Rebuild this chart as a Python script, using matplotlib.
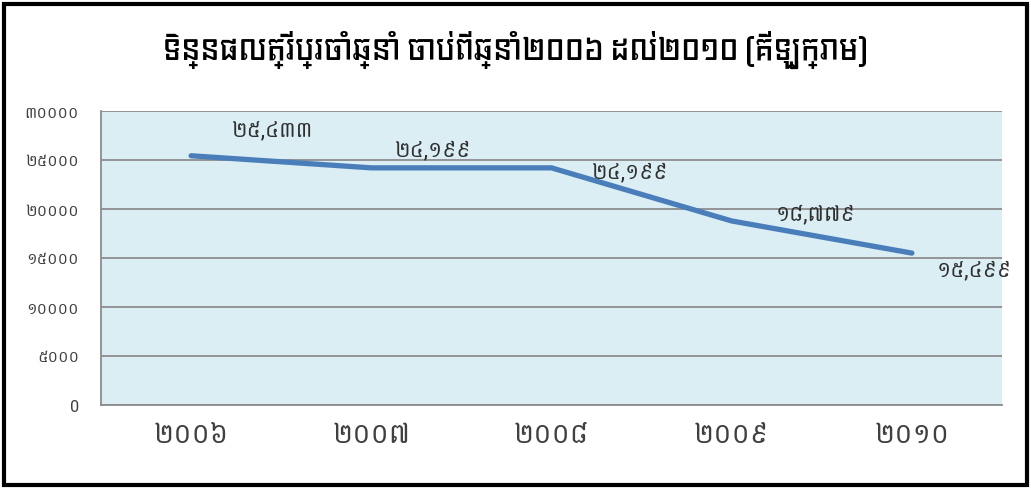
import matplotlib
matplotlib.use("Agg")
import matplotlib.pyplot as plt
from matplotlib.patches import Rectangle

title = "ទិន្នផលត្រីប្រចាំឆ្នាំ ចាប់ពីឆ្នាំ២០០៦ ដល់២០១០ (គីឡូក្រាម)"
years = ["២០០៦", "២០០៧", "២០០៨", "២០០៩", "២០១០"]
values = [25433, 24199, 24199, 18779, 15499]
value_labels = ["២៥,៤៣៣", "២៤,១៩៩", "២៤,១៩៩", "១៨,៧៧៩", "១៥,៤៩៩"]
yticks = [0, 5000, 10000, 15000, 20000, 25000, 30000]
ytick_labels = ["0", "៥០០០", "១០០០០", "១៥០០០", "២០០០០", "២៥០០០", "៣០០០០"]

body_font = ["Battambang", "Hanuman", "Noto Sans Khmer", "DejaVu Sans"]
title_font = ["Kdam Thmor Pro", "Noto Sans Khmer", "DejaVu Sans"]
plt.rcParams['font.family'] = body_font

fig = plt.figure(figsize=(10.31, 4.88), dpi=100)
ax = fig.add_axes([101/1031, 1-405/488, 901/1031, 294/488])
ax.set_facecolor("#DAEEF3")
x = list(range(len(years)))
ax.plot(x, values, color="#4A7EBB", lw=3.8, solid_capstyle="round", zorder=3)
ax.set_xlim(-0.5, 4.5)
ax.set_ylim(0, 30000)
ax.set_yticks(yticks)
ax.set_yticklabels(ytick_labels, fontsize=11.5, color="#404040")
ax.set_xticks(x)
ax.set_xticklabels(years, fontsize=20, color="#404040")
ax.tick_params(axis='y', length=0, pad=16)
ax.tick_params(axis='x', length=0, pad=12)
ax.grid(axis='y', color="#8C8C8C", lw=1.3)
ax.set_axisbelow(True)
for s in ax.spines.values():
    s.set_color("#8C8C8C")
    s.set_linewidth(1.3)
ax.spines['right'].set_visible(False)
ax.spines['top'].set_visible(False)

offsets = [(58, 18), (44, 13), (56, -3), (60, 5), (45, -12)]
for xi, v, lab, off in zip(x, values, value_labels, offsets):
    ax.annotate(lab, (xi, v), xytext=off, textcoords="offset points",
                ha="center", va="center", fontsize=15.5, color="#303030")

fig.text(0.5, 1-50/488, title, ha="center", va="center", fontsize=20,
         family=title_font, fontweight="bold", color="black")

fig.patches.append(Rectangle((4/1031, 3/488), 1-8/1031, 1-7/488,
                             transform=fig.transFigure, fill=False,
                             edgecolor="black", lw=3))
fig.savefig("out.png", dpi=100, facecolor="white")
